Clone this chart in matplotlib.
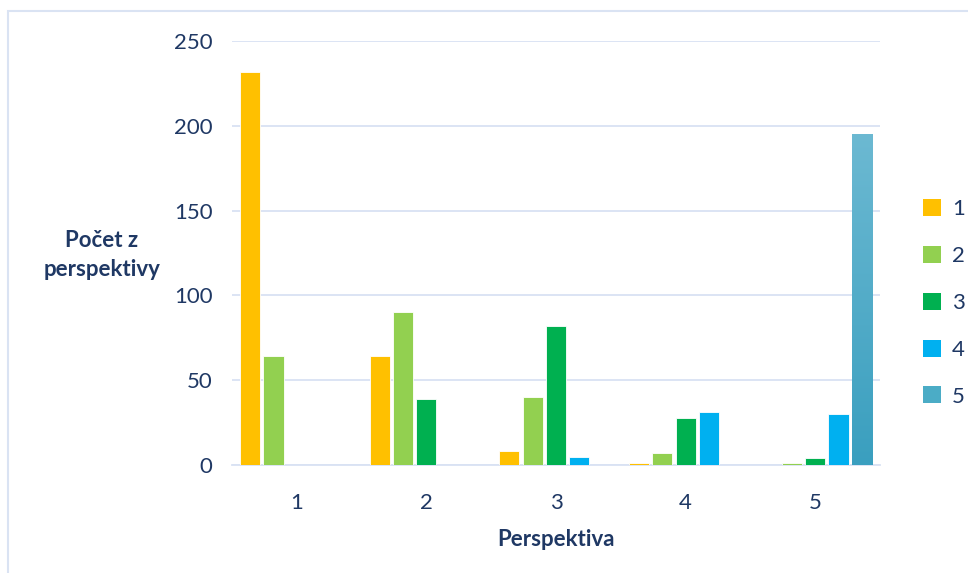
import numpy as np
import matplotlib
matplotlib.use('Agg')
import matplotlib.pyplot as plt
from matplotlib.colors import LinearSegmentedColormap
from matplotlib.patches import Rectangle

# Counts per perspective, one list per series
categories = ['1', '2', '3', '4', '5']
series_names = ['1', '2', '3', '4', '5']
s1 = [232, 64, 8, 1, 0]
s2 = [64, 90, 40, 7, 1]
s3 = [0, 39, 82, 28, 4]
s4 = [0, 0, 5, 31, 30]
s5 = [0, 0, 0, 0, 195]
series = [s1, s2, s3, s4, s5]
colors = ['#ffc000', '#92d050', '#00b050', '#00b0f0', '#4bacc6']

text_col = '#1f3864'
grid_col = '#d9e2f3'

plt.rcParams['font.family'] = ['Lato', 'DejaVu Sans']

fig = plt.figure(figsize=(9.68, 5.73), dpi=100)
ax = fig.add_axes([232/968, 1-465/573, (880-232)/968, (465-41)/573])

# outer frame of the chart area
fig.patches.append(Rectangle((8/968, -0.1), 1.2, 1-11/573+0.1, transform=fig.transFigure,
                             fill=False, edgecolor='#dae3f3', lw=1.5))

x = np.arange(1, len(categories)+1)
step = 0.18
width = 0.155
for i, (vals, c, name) in enumerate(zip(series, colors, series_names)):
    bars = ax.bar(x + (i-2)*step, vals, width, color=c, edgecolor='white', lw=0.6,
                  label=name, zorder=3)
    if i == 4:
        # gradient fill on the last series
        cmap = LinearSegmentedColormap.from_list('g', ['#3a9fbf', '#6cb9d2'])
        grad = np.linspace(0, 1, 256).reshape(-1, 1)
        for b in bars:
            h = b.get_height()
            if h <= 0:
                continue
            im = ax.imshow(grad, cmap=cmap, origin='lower', aspect='auto',
                           extent=[b.get_x(), b.get_x()+b.get_width(), 0, h], zorder=3.5)
            im.set_clip_path(b)

ax.set_xlim(0.5, 5.5)
ax.set_ylim(0, 250)
ax.set_yticks(range(0, 251, 50))
ax.set_xticks(x)
ax.set_xticklabels(categories)
ax.grid(axis='y', color=grid_col, lw=1.3, zorder=0)
for s in ['top', 'right', 'left']:
    ax.spines[s].set_visible(False)
ax.spines['bottom'].set_color(grid_col)
ax.spines['bottom'].set_linewidth(1.3)
ax.tick_params(length=0, labelsize=16, labelcolor=text_col)
ax.tick_params(axis='y', pad=14)
ax.tick_params(axis='x', pad=20)

ax.set_xlabel('Perspektiva', fontsize=16, fontweight='bold', color=text_col, labelpad=12)
fig.text(102/968, 1-255/573, 'Počet z\nperspektivy', fontsize=16, fontweight='bold',
         color=text_col, ha='center', va='center', linespacing=1.5)

leg = ax.legend(loc='upper left', bbox_to_anchor=(914/968, 1-190/573),
                bbox_transform=fig.transFigure, frameon=False, fontsize=16,
                labelcolor=text_col, handlelength=0.8, handleheight=0.8,
                handletextpad=0.5, labelspacing=1.2, borderaxespad=0)
for h in leg.legend_handles:
    h.set_edgecolor('none')

fig.savefig('out.png', dpi=100)
